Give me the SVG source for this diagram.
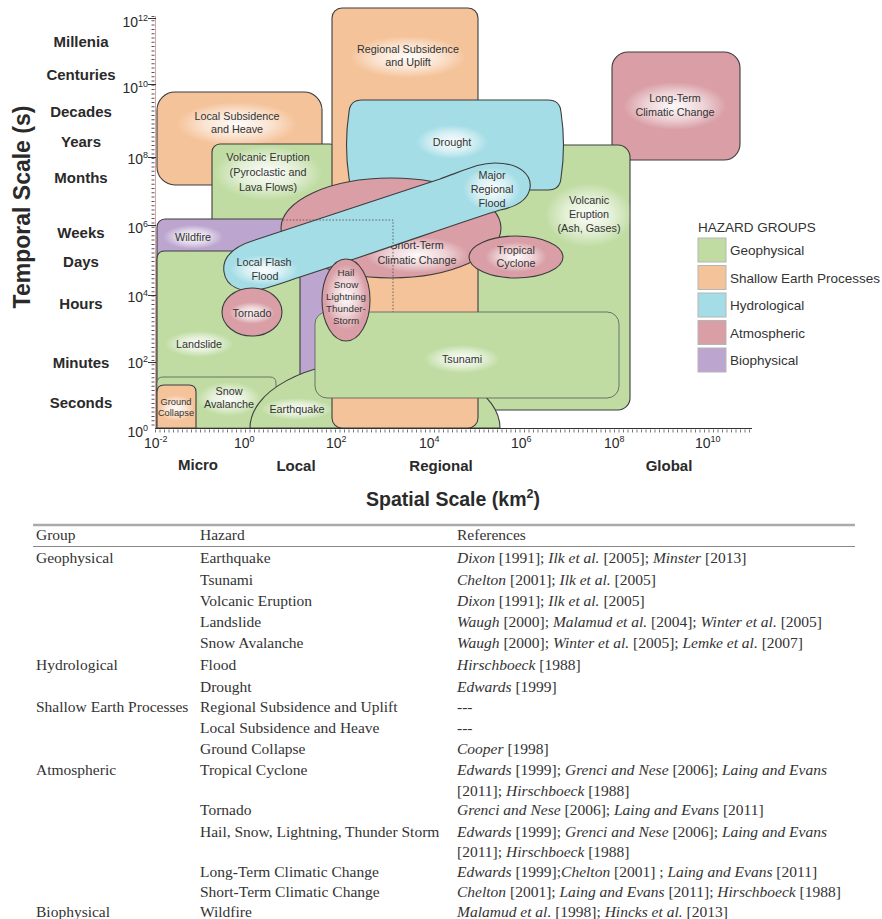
<svg xmlns="http://www.w3.org/2000/svg" width="882" height="919" viewBox="0 0 882 919">
<defs>
<radialGradient id="halo">
<stop offset="0" stop-color="#fff" stop-opacity="0.95"/>
<stop offset="0.55" stop-color="#fff" stop-opacity="0.55"/>
<stop offset="1" stop-color="#fff" stop-opacity="0"/>
</radialGradient>
</defs>
<style>
.geo{fill:#c0dca3;stroke:#3d3d3d;stroke-width:1.1}
.sep{fill:#f5c39a;stroke:#3d3d3d;stroke-width:1.1}
.hyd{fill:#a4dde6;stroke:#3d3d3d;stroke-width:1.1}
.atm{fill:#d99ea6;stroke:#3d3d3d;stroke-width:1.1}
.bio{fill:#bca6cf;stroke:#3d3d3d;stroke-width:1.1}
.thin{stroke:#555;stroke-width:0.8}
.halo{fill:url(#halo)}
.lbl{font-family:"Liberation Sans",Arial,sans-serif;font-size:11px;fill:#333;text-anchor:middle}
.sm{font-size:10.8px}
.xs{font-size:9.3px}
.hs{font-size:9.8px}
.ax{font-family:"Liberation Sans",Arial,sans-serif;font-weight:bold;font-size:15px;fill:#2a2a2a;text-anchor:middle}
.tk{font-family:"Liberation Sans",Arial,sans-serif;font-size:14px;fill:#2a2a2a}
.ttl{font-family:"Liberation Sans",Arial,sans-serif;font-weight:bold;font-size:19.5px;fill:#2a2a2a;text-anchor:middle}
.vt{font-size:23px}
.lg{font-family:"Liberation Sans",Arial,sans-serif;font-size:13.5px;fill:#333}
.sw{stroke:#b5b5b5;stroke-width:1}
.tb{font-family:"Liberation Serif","Times New Roman",serif;font-size:15.5px;fill:#333}
.i{font-style:italic}
</style>

<g id="long-term-climatic-change">
<rect class="atm" x="612" y="52" width="128" height="108" rx="16"/>
<ellipse class="halo" cx="675" cy="106" rx="52" ry="24"/>
<text class="lbl sm" x="675" y="102">Long-Term</text>
<text class="lbl sm" x="675" y="116">Climatic Change</text>
</g>

<g id="volcanic-eruption-ash">
<rect class="geo" x="468" y="145" width="162" height="265" rx="12"/>
<ellipse class="halo" cx="589" cy="215" rx="44" ry="32"/>
<text class="lbl sm" x="589" y="204">Volcanic</text>
<text class="lbl sm" x="589" y="218">Eruption</text>
<text class="lbl sm" x="589" y="232">(Ash, Gases)</text>
</g>

<g id="local-subsidence-heave">
<rect class="sep" x="157" y="92" width="165" height="93" rx="18"/>
<ellipse class="halo" cx="237" cy="124" rx="60" ry="22"/>
<text class="lbl sm" x="237" y="120">Local Subsidence</text>
<text class="lbl sm" x="237" y="133">and Heave</text>
</g>

<g id="volcanic-eruption-pyroclastic">
<rect class="geo" x="212" y="144" width="126" height="118" rx="8"/>
<ellipse class="halo" cx="268" cy="173" rx="54" ry="27"/>
<text class="lbl sm" x="268" y="161">Volcanic Eruption</text>
<text class="lbl sm" x="268" y="176">(Pyroclastic and</text>
<text class="lbl sm" x="268" y="191">Lava Flows)</text>
</g>

<g id="wildfire">
<rect class="bio" x="157" y="219" width="173" height="181" rx="8"/>
<ellipse class="halo" cx="193" cy="237" rx="30" ry="12"/>
<text class="lbl sm" x="193" y="241">Wildfire</text>
</g>

<g id="landslide">
<path class="geo" d="M157,428 V259 Q157,251 165,251 H300 V428 Z"/>
<ellipse class="halo" cx="199" cy="344" rx="34" ry="13"/>
<text class="lbl sm" x="199" y="348">Landslide</text>
</g>

<g id="snow-avalanche">
<path class="geo thin" d="M157,428 V383 Q157,377 163,377 H270 Q276,377 276,383 V428 Z"/>
<ellipse class="halo" cx="229" cy="399" rx="32" ry="17"/>
<text class="lbl sm" x="229" y="395">Snow</text>
<text class="lbl sm" x="229" y="408">Avalanche</text>
</g>

<g id="ground-collapse">
<path class="sep" d="M157,428 V392 Q157,385 164,385 H189 Q196,385 196,392 V428 Z"/>
<ellipse class="halo" cx="176" cy="408" rx="18" ry="13"/>
<text class="lbl xs" x="176" y="405">Ground</text>
<text class="lbl xs" x="176" y="416">Collapse</text>
</g>

<g id="earthquake">
<path class="geo" d="M250,428 A125,67 0 0 1 500,428 Z"/>
<ellipse class="halo" cx="297" cy="409" rx="36" ry="11"/>
<text class="lbl sm" x="297" y="413">Earthquake</text>
</g>

<g id="regional-subsidence-uplift">
<rect class="sep" x="332" y="8" width="146" height="420" rx="10"/>
<ellipse class="halo" cx="408" cy="57" rx="58" ry="21"/>
<text class="lbl sm" x="408" y="53">Regional Subsidence</text>
<text class="lbl sm" x="408" y="66">and Uplift</text>
</g>

<g id="drought">
<path class="hyd" d="M362,100 H548 Q560,100 561,112 Q566,145 561,178 Q560,190 548,190 H362 Q350,190 349,178 Q344,145 349,112 Q350,100 362,100 Z"/>
<ellipse class="halo" cx="452" cy="142" rx="36" ry="17"/>
<text class="lbl sm" x="452" y="146">Drought</text>
</g>

<g id="short-term-climatic-change">
<ellipse class="atm" cx="391" cy="228" rx="110" ry="50"/>
<ellipse class="halo" cx="417" cy="255" rx="52" ry="18"/>
<text class="lbl sm" x="417" y="249">Short-Term</text>
<text class="lbl sm" x="417" y="264">Climatic Change</text>
</g>

<g id="flood">
<path class="hyd" d="M224,272 C222,258 232,247 255,240 C300,225 380,199 440,179 C470,168 480,163 495,163 C520,163 532,175 530,188 C528,200 515,207 500,210 C470,219 380,251 300,277 C285,282 275,286 262,289 C240,294 226,286 224,272 Z"/>
<ellipse class="halo" cx="264" cy="270" rx="34" ry="15"/>
<text class="lbl sm" x="264" y="266">Local Flash</text>
<text class="lbl sm" x="265" y="280">Flood</text>
<ellipse class="halo" cx="492" cy="189" rx="29" ry="22"/>
<text class="lbl sm" x="492" y="179">Major</text>
<text class="lbl sm" x="492" y="193">Regional</text>
<text class="lbl sm" x="492" y="207">Flood</text>
</g>

<g id="connectors">
<path d="M283,220 H393 V312" fill="none" stroke="#555" stroke-width="0.9" stroke-dasharray="1.5,1.8"/>
</g>

<g id="tsunami">
<rect class="geo thin" x="315" y="312" width="304" height="86" rx="12"/>
<ellipse class="halo" cx="462" cy="359" rx="38" ry="14"/>
<text class="lbl sm" x="462" y="363">Tsunami</text>
</g>

<g id="hail-snow-lightning-thunderstorm">
<ellipse class="atm" cx="346" cy="300" rx="24" ry="41"/>
<ellipse class="halo" cx="346" cy="297" rx="21" ry="33"/>
<text class="lbl hs" x="346" y="276">Hail</text>
<text class="lbl hs" x="346" y="288">Snow</text>
<text class="lbl hs" x="346" y="300">Lightning</text>
<text class="lbl hs" x="346" y="312">Thunder-</text>
<text class="lbl hs" x="346" y="324">Storm</text>
</g>

<g id="tornado">
<ellipse class="atm" cx="252" cy="312" rx="30" ry="24"/>
<ellipse class="halo" cx="252" cy="313" rx="23" ry="11"/>
<text class="lbl sm" x="252" y="317">Tornado</text>
</g>

<g id="tropical-cyclone">
<ellipse class="atm" cx="516" cy="257" rx="47" ry="21"/>
<ellipse class="halo" cx="516" cy="257" rx="31" ry="15"/>
<text class="lbl sm" x="516" y="254">Tropical</text>
<text class="lbl sm" x="516" y="267">Cyclone</text>
</g>

<g id="axes">
<line x1="155.5" y1="16" x2="155.5" y2="429" stroke="#d8a4a4" stroke-width="1"/>
<line x1="153" y1="16" x2="153" y2="428" stroke="#555" stroke-width="3" stroke-dasharray="1,3.3"/>
<path d="M148,18.5 H156 M148,84.5 H156 M148,157.5 H156 M148,225.5 H156 M148,295.5 H156 M148,362.5 H156" stroke="#333" stroke-width="1.2"/>
<line x1="155" y1="428.5" x2="752" y2="428.5" stroke="#333" stroke-width="1"/>
<line x1="155" y1="431" x2="752" y2="431" stroke="#777" stroke-width="3" stroke-dasharray="1,3.5"/>
<text class="tk" x="148" y="27" text-anchor="end">10<tspan font-size="9" dy="-6">12</tspan></text>
<text class="tk" x="148" y="93" text-anchor="end">10<tspan font-size="9" dy="-6">10</tspan></text>
<text class="tk" x="148" y="164" text-anchor="end">10<tspan font-size="9" dy="-6">8</tspan></text>
<text class="tk" x="148" y="233" text-anchor="end">10<tspan font-size="9" dy="-6">6</tspan></text>
<text class="tk" x="148" y="302" text-anchor="end">10<tspan font-size="9" dy="-6">4</tspan></text>
<text class="tk" x="148" y="368" text-anchor="end">10<tspan font-size="9" dy="-6">2</tspan></text>
<text class="tk" x="148" y="437" text-anchor="end">10<tspan font-size="9" dy="-6">0</tspan></text>
<text class="tk" x="144" y="448">10<tspan font-size="9" dy="-6">-2</tspan></text>
<text class="tk" x="234" y="448">10<tspan font-size="9" dy="-6">0</tspan></text>
<text class="tk" x="326" y="448">10<tspan font-size="9" dy="-6">2</tspan></text>
<text class="tk" x="419" y="448">10<tspan font-size="9" dy="-6">4</tspan></text>
<text class="tk" x="511" y="448">10<tspan font-size="9" dy="-6">6</tspan></text>
<text class="tk" x="604" y="448">10<tspan font-size="9" dy="-6">8</tspan></text>
<text class="tk" x="695" y="448">10<tspan font-size="9" dy="-6">10</tspan></text>
<text class="ax" x="81" y="47">Millenia</text>
<text class="ax" x="81" y="80">Centuries</text>
<text class="ax" x="81" y="117">Decades</text>
<text class="ax" x="81" y="147">Years</text>
<text class="ax" x="81" y="183">Months</text>
<text class="ax" x="81" y="238">Weeks</text>
<text class="ax" x="81" y="267">Days</text>
<text class="ax" x="81" y="309">Hours</text>
<text class="ax" x="81" y="368">Minutes</text>
<text class="ax" x="81" y="408">Seconds</text>
<text class="ax" x="198" y="470">Micro</text>
<text class="ax" x="296" y="471">Local</text>
<text class="ax" x="441" y="471">Regional</text>
<text class="ax" x="669" y="471">Global</text>
<text class="ttl" x="453" y="506">Spatial Scale (km<tspan font-size="12.5" dy="-8">2</tspan><tspan dy="8">)</tspan></text>
<text class="ttl vt" transform="translate(30,207) rotate(-90)">Temporal Scale (s)</text>
</g>

<g id="legend">
<text class="lg" x="698" y="232">HAZARD GROUPS</text>
<rect class="geo sw" x="698" y="238" width="28" height="24"/>
<rect class="sep sw" x="698" y="265.5" width="28" height="24"/>
<rect class="hyd sw" x="698" y="293" width="28" height="24"/>
<rect class="atm sw" x="698" y="320.5" width="28" height="24"/>
<rect class="bio sw" x="698" y="348" width="28" height="24"/>
<text class="lg" x="730" y="255">Geophysical</text>
<text class="lg" x="730" y="283">Shallow Earth Processes</text>
<text class="lg" x="730" y="310">Hydrological</text>
<text class="lg" x="730" y="338">Atmospheric</text>
<text class="lg" x="730" y="365">Biophysical</text>
</g>

<g id="table">
<line x1="33" y1="525" x2="855" y2="525" stroke="#aaa" stroke-width="2.5"/>
<line x1="33" y1="546.5" x2="855" y2="546.5" stroke="#888" stroke-width="1"/>
<text class="tb" x="36" y="540">Group</text>
<text class="tb" x="200" y="540">Hazard</text>
<text class="tb" x="457" y="540">References</text>

<text class="tb" x="36" y="563">Geophysical</text>
<text class="tb" x="200" y="563">Earthquake</text>
<text class="tb" x="457" y="563"><tspan class="i">Dixon</tspan> [1991]; <tspan class="i">Ilk et al.</tspan> [2005]; <tspan class="i">Minster</tspan> [2013]</text>
<text class="tb" x="200" y="585">Tsunami</text>
<text class="tb" x="457" y="585"><tspan class="i">Chelton</tspan> [2001]; <tspan class="i">Ilk et al.</tspan> [2005]</text>
<text class="tb" x="200" y="606">Volcanic Eruption</text>
<text class="tb" x="457" y="606"><tspan class="i">Dixon</tspan> [1991]; <tspan class="i">Ilk et al.</tspan> [2005]</text>
<text class="tb" x="200" y="627">Landslide</text>
<text class="tb" x="457" y="627"><tspan class="i">Waugh</tspan> [2000]; <tspan class="i">Malamud et al.</tspan> [2004]; <tspan class="i">Winter et al.</tspan> [2005]</text>
<text class="tb" x="200" y="648">Snow Avalanche</text>
<text class="tb" x="457" y="648"><tspan class="i">Waugh</tspan> [2000]; <tspan class="i">Winter et al.</tspan> [2005]; <tspan class="i">Lemke et al.</tspan> [2007]</text>

<text class="tb" x="36" y="670">Hydrological</text>
<text class="tb" x="200" y="670">Flood</text>
<text class="tb" x="457" y="670"><tspan class="i">Hirschboeck</tspan> [1988]</text>
<text class="tb" x="200" y="692">Drought</text>
<text class="tb" x="457" y="692"><tspan class="i">Edwards</tspan> [1999]</text>

<text class="tb" x="36" y="712">Shallow Earth Processes</text>
<text class="tb" x="200" y="712">Regional Subsidence and Uplift</text>
<text class="tb" x="457" y="712">---</text>
<text class="tb" x="200" y="733">Local Subsidence and Heave</text>
<text class="tb" x="457" y="733">---</text>
<text class="tb" x="200" y="754">Ground Collapse</text>
<text class="tb" x="457" y="754"><tspan class="i">Cooper</tspan> [1998]</text>

<text class="tb" x="36" y="775">Atmospheric</text>
<text class="tb" x="200" y="775">Tropical Cyclone</text>
<text class="tb" x="457" y="775"><tspan class="i">Edwards</tspan> [1999]; <tspan class="i">Grenci and Nese</tspan> [2006]; <tspan class="i">Laing and Evans</tspan></text>
<text class="tb" x="457" y="796">[2011]; <tspan class="i">Hirschboeck</tspan> [1988]</text>
<text class="tb" x="200" y="815">Tornado</text>
<text class="tb" x="457" y="815"><tspan class="i">Grenci and Nese</tspan> [2006]; <tspan class="i">Laing and Evans</tspan> [2011]</text>
<text class="tb" x="200" y="837">Hail, Snow, Lightning, Thunder Storm</text>
<text class="tb" x="457" y="837"><tspan class="i">Edwards</tspan> [1999]; <tspan class="i">Grenci and Nese</tspan> [2006]; <tspan class="i">Laing and Evans</tspan></text>
<text class="tb" x="457" y="857">[2011]; <tspan class="i">Hirschboeck</tspan> [1988]</text>
<text class="tb" x="200" y="877">Long-Term Climatic Change</text>
<text class="tb" x="457" y="877"><tspan class="i">Edwards</tspan> [1999];<tspan class="i">Chelton</tspan> [2001] ; <tspan class="i">Laing and Evans</tspan> [2011]</text>
<text class="tb" x="200" y="897">Short-Term Climatic Change</text>
<text class="tb" x="457" y="897"><tspan class="i">Chelton</tspan> [2001]; <tspan class="i">Laing and Evans</tspan> [2011]; <tspan class="i">Hirschboeck</tspan> [1988]</text>

<text class="tb" x="36" y="917">Biophysical</text>
<text class="tb" x="200" y="917">Wildfire</text>
<text class="tb" x="457" y="917"><tspan class="i">Malamud et al.</tspan> [1998]; <tspan class="i">Hincks et al.</tspan> [2013]</text>
</g>
</svg>
